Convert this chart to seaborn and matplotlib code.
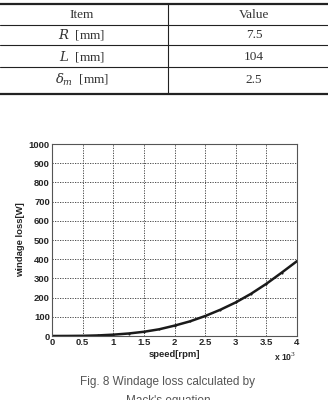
import numpy as np
import pandas as pd
import matplotlib.pyplot as plt
import seaborn as sns
from matplotlib.lines import Line2D

# table content
items = ['Item', '$R$  [mm]', '$L$  [mm]', r'$\delta_m$  [mm]']
values = ['Value', '7.5', '104', '2.5']

# curve (speed in 10^3 rpm, loss in W)
speed = [0, 0.25, 0.5, 0.75, 1, 1.25, 1.5, 1.75, 2, 2.25, 2.5, 2.75, 3, 3.25, 3.5, 3.75, 4]
loss = [0, 0.3, 1, 3, 7, 13, 22, 35, 54, 76, 104, 137, 175, 220, 272, 330, 390]

xticks = [0, 0.5, 1, 1.5, 2, 2.5, 3, 3.5, 4]
xticklabels = ['0', '0.5', '1', '1.5', '2', '2.5', '3', '3.5', '4']
yticks = list(range(0, 1001, 100))

df = pd.DataFrame({'speed': speed, 'loss': loss})

sns.set_style('white')
plt.rcParams['font.family'] = ['Liberation Sans', 'DejaVu Sans']
plt.rcParams['mathtext.fontset'] = 'dejavuserif'

fig = plt.figure(figsize=(3.28, 4.0), dpi=100)

# ---- table on top ----
W, H = 328, 400
def fy(py):
    return 1 - py / H

for py, lw in [(4, 1.6), (25, 0.8), (45, 0.8), (67, 0.8), (94, 1.6)]:
    fig.add_artist(Line2D([0, 1], [fy(py), fy(py)], color='#222222', lw=lw))
fig.add_artist(Line2D([168 / W, 168 / W], [fy(4), fy(94)], color='#222222', lw=0.8))

row_y = [15, 35, 57, 80]
for it, val, py in zip(items, values, row_y):
    fig.text(82 / W, fy(py), it, ha='center', va='center', fontsize=9.5,
             family='Liberation Serif', color='#333333')
    fig.text(254 / W, fy(py), val, ha='center', va='center', fontsize=9.5,
             family='Liberation Serif', color='#333333')

# ---- chart ----
ax = fig.add_axes([52 / W, fy(336), 245 / W, 192 / H])
sns.lineplot(data=df, x='speed', y='loss', ax=ax, color='#1a1a1a', lw=1.8,
             marker='.', markersize=3, markeredgewidth=0)

ax.set_xlim(0, 4)
ax.set_ylim(0, 1000)
ax.set_xticks(xticks)
ax.set_xticklabels(xticklabels)
ax.set_yticks(yticks)
ax.grid(True, color='#333333', linestyle=(0, (1.5, 1.5)), linewidth=0.6)
ax.tick_params(axis='both', labelsize=6.8, length=2, pad=1.5, direction='in')
for lab in ax.get_xticklabels() + ax.get_yticklabels():
    lab.set_fontweight('bold')
for sp in ax.spines.values():
    sp.set_color('#555555')
    sp.set_linewidth(0.8)
ax.set_xlabel('speed[rpm]', fontsize=6.8, fontweight='bold', labelpad=2)
ax.set_ylabel('windage loss[W]', fontsize=6.8, fontweight='bold', labelpad=3)

fig.text(285 / W, fy(357), r'x 10$^3$', ha='center', va='center', fontsize=6.2,
         fontweight='bold')

# ---- caption ----
fig.text(168 / W, fy(382), 'Fig. 8 Windage loss calculated by', ha='center',
         va='center', fontsize=8.5, color='#555555')
fig.text(168 / W, fy(401), "Mack's equation", ha='center', va='center',
         fontsize=8.5, color='#555555')

fig.savefig('out.png', dpi=100)
